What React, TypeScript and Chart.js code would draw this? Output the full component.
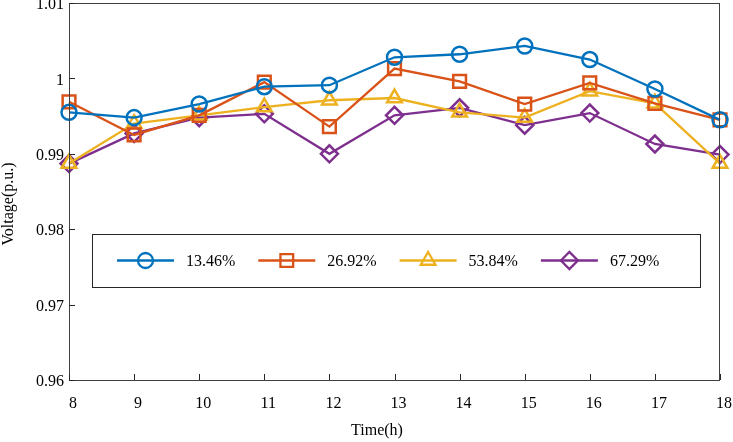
import React, { useEffect, useRef } from 'react';
import { Chart, registerables } from 'chart.js';
import { drawPoint } from 'chart.js/helpers';

Chart.register(...registerables);

const hours = [8, 9, 10, 11, 12, 13, 14, 15, 16, 17, 18];
const seriesLabels = ['13.46%', '26.92%', '53.84%', '67.29%'];
const v1346 = [0.9955, 0.9948, 0.9966, 0.9989, 0.9991, 1.0028, 1.0032, 1.0043, 1.0025, 0.9986, 0.9945];
const v2692 = [0.9969, 0.9925, 0.9951, 0.9995, 0.9936, 1.0013, 0.9996, 0.9966, 0.9994, 0.9967, 0.9945];
const v5384 = [0.9887, 0.994, 0.9951, 0.9962, 0.9971, 0.9974, 0.9955, 0.9948, 0.9983, 0.9967, 0.9887];
const v6729 = [0.9887, 0.9927, 0.9948, 0.9953, 0.99, 0.9951, 0.9961, 0.9938, 0.9954, 0.9913, 0.9899];
const xTitle = 'Time(h)';
const yTitle = 'Voltage(p.u.)';

const colors = ['#0072BD', '#D95319', '#EDB120', '#7E2F8E'];
const markers = ['circle', 'rect', 'triangle', 'rectRot'];
const markerSize = [7.5, 9, 8.5, 8.5];
const serif = '"Liberation Serif", "Times New Roman", serif';

// inward ticks, box, axis titles and the framed legend inside the axes
const axesPlugin = {
  id: 'axesPlugin',
  afterDraw(chart: any) {
    const { ctx, chartArea: a, scales } = chart;
    ctx.save();
    ctx.strokeStyle = '#404040';
    ctx.lineWidth = 1;
    ctx.strokeRect(a.left + 0.5, a.top + 0.5, a.right - a.left - 1, a.bottom - a.top);
    ctx.strokeStyle = '#262626';
    ctx.beginPath();
    scales.y.ticks.forEach((t: any) => {
      const y = Math.round(scales.y.getPixelForValue(t.value)) + 0.5;
      ctx.moveTo(a.left, y);
      ctx.lineTo(a.left + 6, y);
    });
    scales.x.ticks.forEach((t: any) => {
      const x = Math.round(scales.x.getPixelForValue(t.value)) + 0.5;
      ctx.moveTo(x, a.bottom);
      ctx.lineTo(x, a.bottom - 6);
    });
    ctx.stroke();

    // axis titles
    ctx.fillStyle = '#000000';
    ctx.font = '16px ' + serif;
    ctx.textAlign = 'center';
    ctx.textBaseline = 'middle';
    ctx.fillText(xTitle, a.left + 308, a.bottom + 51);
    ctx.save();
    ctx.translate(9, a.top + 201);
    ctx.rotate(-Math.PI / 2);
    ctx.fillText(yTitle, 0, 0);
    ctx.restore();

    // legend
    const bx = a.left + 23;
    const by = a.top + 231;
    const bw = 608;
    const bh = 53;
    ctx.fillStyle = '#ffffff';
    ctx.fillRect(bx, by, bw, bh);
    ctx.strokeStyle = '#262626';
    ctx.lineWidth = 1;
    ctx.strokeRect(bx + 0.5, by + 0.5, bw, bh);
    const cy = by + bh / 2;
    ctx.textAlign = 'left';
    chart.data.datasets.forEach((ds: any, i: number) => {
      const x0 = bx + 25 + i * 141.3;
      ctx.strokeStyle = ds.borderColor;
      ctx.lineWidth = ds.borderWidth;
      ctx.beginPath();
      ctx.moveTo(x0, cy);
      ctx.lineTo(x0 + 57, cy);
      ctx.stroke();
      ctx.fillStyle = 'rgba(255,255,255,0)';
      drawPoint(ctx, { pointStyle: ds.pointStyle, radius: ds.pointRadius, borderWidth: ds.pointBorderWidth, rotation: 0 }, x0 + 28.5, cy);
      ctx.fillStyle = '#000000';
      ctx.fillText(ds.label, x0 + 69, cy + 1);
    });
    ctx.restore();
  },
};

const App: React.FC = () => {
  const chartRef = useRef<HTMLCanvasElement | null>(null);

  useEffect(() => {
    const ctx = chartRef.current?.getContext('2d');
    if (!ctx) return;
    const all = [v1346, v2692, v5384, v6729];
    const chartInstance = new Chart(ctx, {
      type: 'line',
      data: {
        datasets: all.map((vals, i) => ({
          label: seriesLabels[i],
          data: hours.map((h, j) => ({ x: h, y: vals[j] })),
          borderColor: colors[i],
          backgroundColor: 'rgba(255,255,255,0)',
          pointBackgroundColor: 'rgba(255,255,255,0)',
          pointBorderColor: colors[i],
          pointBorderWidth: 2.5,
          pointStyle: markers[i],
          pointRadius: markerSize[i],
          borderWidth: 2.3,
          tension: 0,
          clip: false as any,
        })),
      },
      options: {
        animation: false,
        responsive: true,
        maintainAspectRatio: false,
        layout: { autoPadding: false, padding: { top: 3, right: 13, left: 0, bottom: 0 } },
        plugins: {
          legend: { display: false },
          tooltip: { enabled: false },
        },
        scales: {
          x: {
            type: 'linear',
            min: 8,
            max: 18,
            grid: { display: false, drawTicks: false },
            border: { display: false },
            ticks: {
              stepSize: 1,
              padding: 14,
              labelOffset: 4,
              color: '#000',
              font: { family: serif, size: 16 },
            },
            afterFit: (s: any) => {
              s.height = 62;
              s.paddingLeft = 0;
              s.paddingRight = 0;
            },
          },
          y: {
            min: 0.96,
            max: 1.01,
            grid: { display: false, drawTicks: false },
            border: { display: false },
            ticks: {
              stepSize: 0.01,
              padding: 5,
              labelOffset: 2,
              color: '#000',
              font: { family: serif, size: 16 },
              callback: (v: any) => String(Number(Number(v).toFixed(2))),
            },
            afterFit: (s: any) => {
              s.width = 69;
              s.paddingTop = 0;
              s.paddingBottom = 0;
            },
          },
        },
      },
      plugins: [axesPlugin],
    });

    return () => {
      chartInstance.destroy();
    };
  }, []);

  return (
    <div style={{ position: 'fixed', left: 0, top: 0, width: 733, height: 442, background: '#fff' }}>
      <canvas ref={chartRef} />
    </div>
  );
};

export default App;
